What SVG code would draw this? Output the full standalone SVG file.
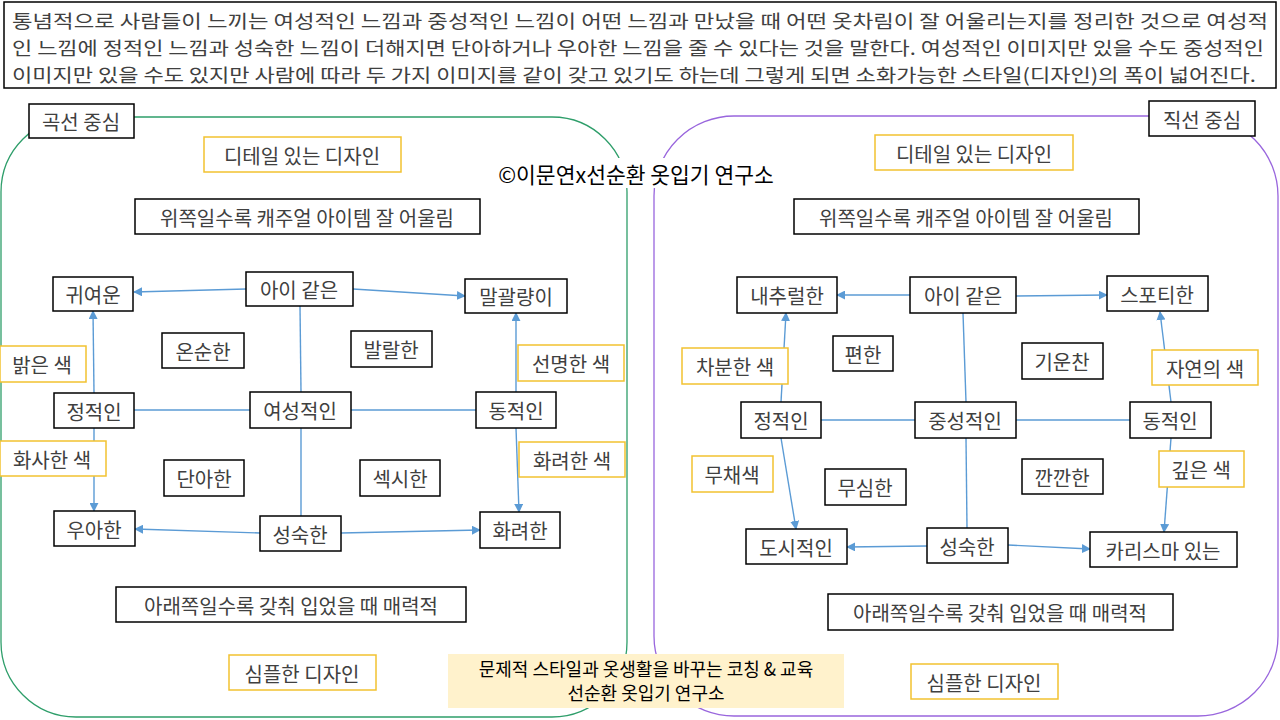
<svg xmlns="http://www.w3.org/2000/svg" width="1280" height="720" viewBox="0 0 1280 720">
<style>
text{font-family:"Noto Sans CJK KR","Noto Sans",sans-serif;font-size:20px;fill:#404040}
.c{text-anchor:middle;dominant-baseline:central}
.i{font-size:18.5px}
.b rect{fill:#fff;stroke:#000;stroke-width:1.5}
.y rect{fill:#fff;stroke:#f2c230;stroke-width:1.5}
.cn line{stroke:#5b9bd5;stroke-width:1.4}
.ar{marker-end:url(#a)}
</style>
<defs><marker id="a" viewBox="0 0 10 10" refX="9" refY="5" markerWidth="9" markerHeight="9" markerUnits="userSpaceOnUse" orient="auto"><path d="M0,0L10,5L0,10z" fill="#5b9bd5"/></marker></defs>
<rect width="1280" height="720" fill="#fff"/>
<g id="intro" class="b"><rect x="4" y="2" width="1272" height="86"/>
<text class="i" x="12" y="28" textLength="1256" lengthAdjust="spacingAndGlyphs">통념적으로 사람들이 느끼는 여성적인 느낌과 중성적인 느낌이 어떤 느낌과 만났을 때 어떤 옷차림이 잘 어울리는지를 정리한 것으로 여성적</text>
<text class="i" x="12" y="55" textLength="1252" lengthAdjust="spacingAndGlyphs">인 느낌에 정적인 느낌과 성숙한 느낌이 더해지면 단아하거나 우아한 느낌을 줄 수 있다는 것을 말한다. 여성적인 이미지만 있을 수도 중성적인</text>
<text class="i" x="12" y="82" textLength="1244" lengthAdjust="spacingAndGlyphs">이미지만 있을 수도 있지만 사람에 따라 두 가지 이미지를 같이 갖고 있기도 하는데 그렇게 되면 소화가능한 스타일(디자인)의 폭이 넓어진다.</text></g>
<rect x="1" y="117" width="626" height="600" rx="75" fill="none" stroke="#2e9e6a" stroke-width="1.3"/>
<rect x="654" y="116" width="624" height="600" rx="80" fill="none" stroke="#9966dd" stroke-width="1.3"/>
<g id="copy"><rect x="493" y="158" width="287" height="30" fill="#fff"/><text x="636" y="173" class="c" style="fill:#000;font-size:21.5px">©이문연x선순환 옷입기 연구소</text></g>
<g class="cn" id="connectors">
<line x1="300" y1="306" x2="301" y2="392"/><line x1="301" y1="428" x2="301" y2="516"/>
<line x1="134" y1="410" x2="250" y2="410"/><line x1="351" y1="410" x2="476" y2="410"/>
<line class="ar" x1="246" y1="289" x2="134" y2="292"/><line class="ar" x1="353" y1="289" x2="465" y2="296"/>
<line class="ar" x1="94" y1="393" x2="93" y2="311"/><line class="ar" x1="94" y1="428" x2="94" y2="511"/>
<line class="ar" x1="516" y1="392" x2="516" y2="313"/><line class="ar" x1="516" y1="428" x2="519" y2="512"/>
<line class="ar" x1="260" y1="533" x2="135" y2="529"/><line class="ar" x1="341" y1="533" x2="480" y2="530"/>
<line x1="963" y1="313" x2="966" y2="402"/><line x1="966" y1="438" x2="967" y2="528"/>
<line x1="821" y1="420" x2="915" y2="420"/><line x1="1016" y1="420" x2="1130" y2="420"/>
<line class="ar" x1="910" y1="295" x2="837" y2="295"/><line class="ar" x1="1016" y1="296" x2="1107" y2="295"/>
<line class="ar" x1="781" y1="402" x2="786" y2="313"/><line class="ar" x1="781" y1="438" x2="796" y2="529"/>
<line class="ar" x1="1171" y1="402" x2="1160" y2="312"/><line class="ar" x1="1171" y1="438" x2="1164" y2="532"/>
<line class="ar" x1="927" y1="546" x2="847" y2="547"/><line class="ar" x1="1008" y1="545" x2="1090" y2="549"/>
</g>
<g id="l-title" class="b"><rect x="29" y="104" width="105" height="34"/><text x="81" y="121" class="c">곡선 중심</text></g>
<g id="l-detail" class="y"><rect x="204" y="137" width="197" height="35"/><text x="302" y="155" class="c">디테일 있는 디자인</text></g>
<g id="l-up" class="b"><rect x="135" y="199" width="345" height="35"/><text x="307" y="217" class="c">위쪽일수록 캐주얼 아이템 잘 어울림</text></g>
<g id="l-cute" class="b"><rect x="53" y="277" width="80" height="34"/><text x="93" y="294" class="c">귀여운</text></g>
<g id="l-child" class="b"><rect x="246" y="272" width="107" height="34"/><text x="299" y="289" class="c">아이 같은</text></g>
<g id="l-tom" class="b"><rect x="465" y="279" width="102" height="34"/><text x="516" y="296" class="c">말괄량이</text></g>
<g id="l-bright" class="y"><rect x="0" y="346" width="86" height="36"/><text x="42" y="364" class="c">밝은 색</text></g>
<g id="l-gentle" class="b"><rect x="162" y="333" width="82" height="35"/><text x="203" y="351" class="c">온순한</text></g>
<g id="l-lively" class="b"><rect x="351" y="331" width="81" height="36"/><text x="391" y="349" class="c">발랄한</text></g>
<g id="l-vivid" class="y"><rect x="518" y="345" width="106" height="36"/><text x="571" y="363" class="c">선명한 색</text></g>
<g id="l-static" class="b"><rect x="54" y="393" width="80" height="35"/><text x="94" y="411" class="c">정적인</text></g>
<g id="l-fem" class="b"><rect x="250" y="392" width="101" height="36"/><text x="300" y="410" class="c">여성적인</text></g>
<g id="l-dyn" class="b"><rect x="476" y="392" width="80" height="36"/><text x="516" y="410" class="c">동적인</text></g>
<g id="l-pastel" class="y"><rect x="0" y="441" width="106" height="35"/><text x="52" y="459" class="c">화사한 색</text></g>
<g id="l-fancyc" class="y"><rect x="519" y="442" width="106" height="35"/><text x="572" y="460" class="c">화려한 색</text></g>
<g id="l-neat" class="b"><rect x="164" y="460" width="80" height="36"/><text x="204" y="478" class="c">단아한</text></g>
<g id="l-sexy" class="b"><rect x="360" y="460" width="80" height="36"/><text x="400" y="478" class="c">섹시한</text></g>
<g id="l-elegant" class="b"><rect x="54" y="511" width="81" height="35"/><text x="94" y="529" class="c">우아한</text></g>
<g id="l-mature" class="b"><rect x="260" y="516" width="81" height="35"/><text x="300" y="534" class="c">성숙한</text></g>
<g id="l-fancy" class="b"><rect x="480" y="512" width="80" height="36"/><text x="520" y="530" class="c">화려한</text></g>
<g id="l-down" class="b"><rect x="116" y="587" width="350" height="35"/><text x="291" y="605" class="c">아래쪽일수록 갖춰 입었을 때 매력적</text></g>
<g id="l-simple" class="y"><rect x="229" y="655" width="147" height="35"/><text x="302" y="673" class="c">심플한 디자인</text></g>
<g id="r-title" class="b"><rect x="1149" y="101" width="106" height="35"/><text x="1202" y="119" class="c">직선 중심</text></g>
<g id="r-detail" class="y"><rect x="875" y="135" width="198" height="35"/><text x="974" y="153" class="c">디테일 있는 디자인</text></g>
<g id="r-up" class="b"><rect x="794" y="199" width="345" height="35"/><text x="966" y="217" class="c">위쪽일수록 캐주얼 아이템 잘 어울림</text></g>
<g id="r-natural" class="b"><rect x="737" y="277" width="100" height="36"/><text x="787" y="295" class="c">내추럴한</text></g>
<g id="r-child" class="b"><rect x="910" y="277" width="106" height="36"/><text x="963" y="295" class="c">아이 같은</text></g>
<g id="r-sporty" class="b"><rect x="1107" y="276" width="101" height="35"/><text x="1157" y="294" class="c">스포티한</text></g>
<g id="r-easy" class="b"><rect x="833" y="336" width="60" height="35"/><text x="863" y="354" class="c">편한</text></g>
<g id="r-energy" class="b"><rect x="1022" y="343" width="81" height="36"/><text x="1062" y="361" class="c">기운찬</text></g>
<g id="r-calm" class="y"><rect x="682" y="348" width="106" height="36"/><text x="735" y="366" class="c">차분한 색</text></g>
<g id="r-nature" class="y"><rect x="1152" y="350" width="106" height="35"/><text x="1205" y="368" class="c">자연의 색</text></g>
<g id="r-static" class="b"><rect x="741" y="402" width="80" height="36"/><text x="781" y="420" class="c">정적인</text></g>
<g id="r-neutral" class="b"><rect x="915" y="402" width="101" height="36"/><text x="965" y="420" class="c">중성적인</text></g>
<g id="r-dyn" class="b"><rect x="1130" y="402" width="81" height="36"/><text x="1170" y="420" class="c">동적인</text></g>
<g id="r-achrom" class="y"><rect x="692" y="456" width="81" height="36"/><text x="732" y="474" class="c">무채색</text></g>
<g id="r-casual" class="b"><rect x="825" y="469" width="81" height="36"/><text x="865" y="487" class="c">무심한</text></g>
<g id="r-strict" class="b"><rect x="1022" y="459" width="81" height="35"/><text x="1062" y="477" class="c">깐깐한</text></g>
<g id="r-deep" class="y"><rect x="1159" y="451" width="85" height="36"/><text x="1201" y="469" class="c">깊은 색</text></g>
<g id="r-urban" class="b"><rect x="746" y="529" width="101" height="35"/><text x="796" y="547" class="c">도시적인</text></g>
<g id="r-mature" class="b"><rect x="927" y="528" width="81" height="35"/><text x="967" y="546" class="c">성숙한</text></g>
<g id="r-charisma" class="b"><rect x="1090" y="532" width="147" height="35"/><text x="1163" y="550" class="c">카리스마 있는</text></g>
<g id="r-down" class="b"><rect x="828" y="594" width="345" height="36"/><text x="1000" y="612" class="c">아래쪽일수록 갖춰 입었을 때 매력적</text></g>
<g id="r-simple" class="y"><rect x="911" y="664" width="147" height="35"/><text x="984" y="682" class="c">심플한 디자인</text></g>
<g id="footer"><rect x="448" y="654" width="396" height="54" fill="#fff2cc"/>
<text x="646" y="668" class="c" style="font-size:18px;fill:#000">문제적 스타일과 옷생활을 바꾸는 코칭 &amp; 교육</text>
<text x="646" y="692" class="c" style="font-size:18px;fill:#000">선순환 옷입기 연구소</text></g>
</svg>
